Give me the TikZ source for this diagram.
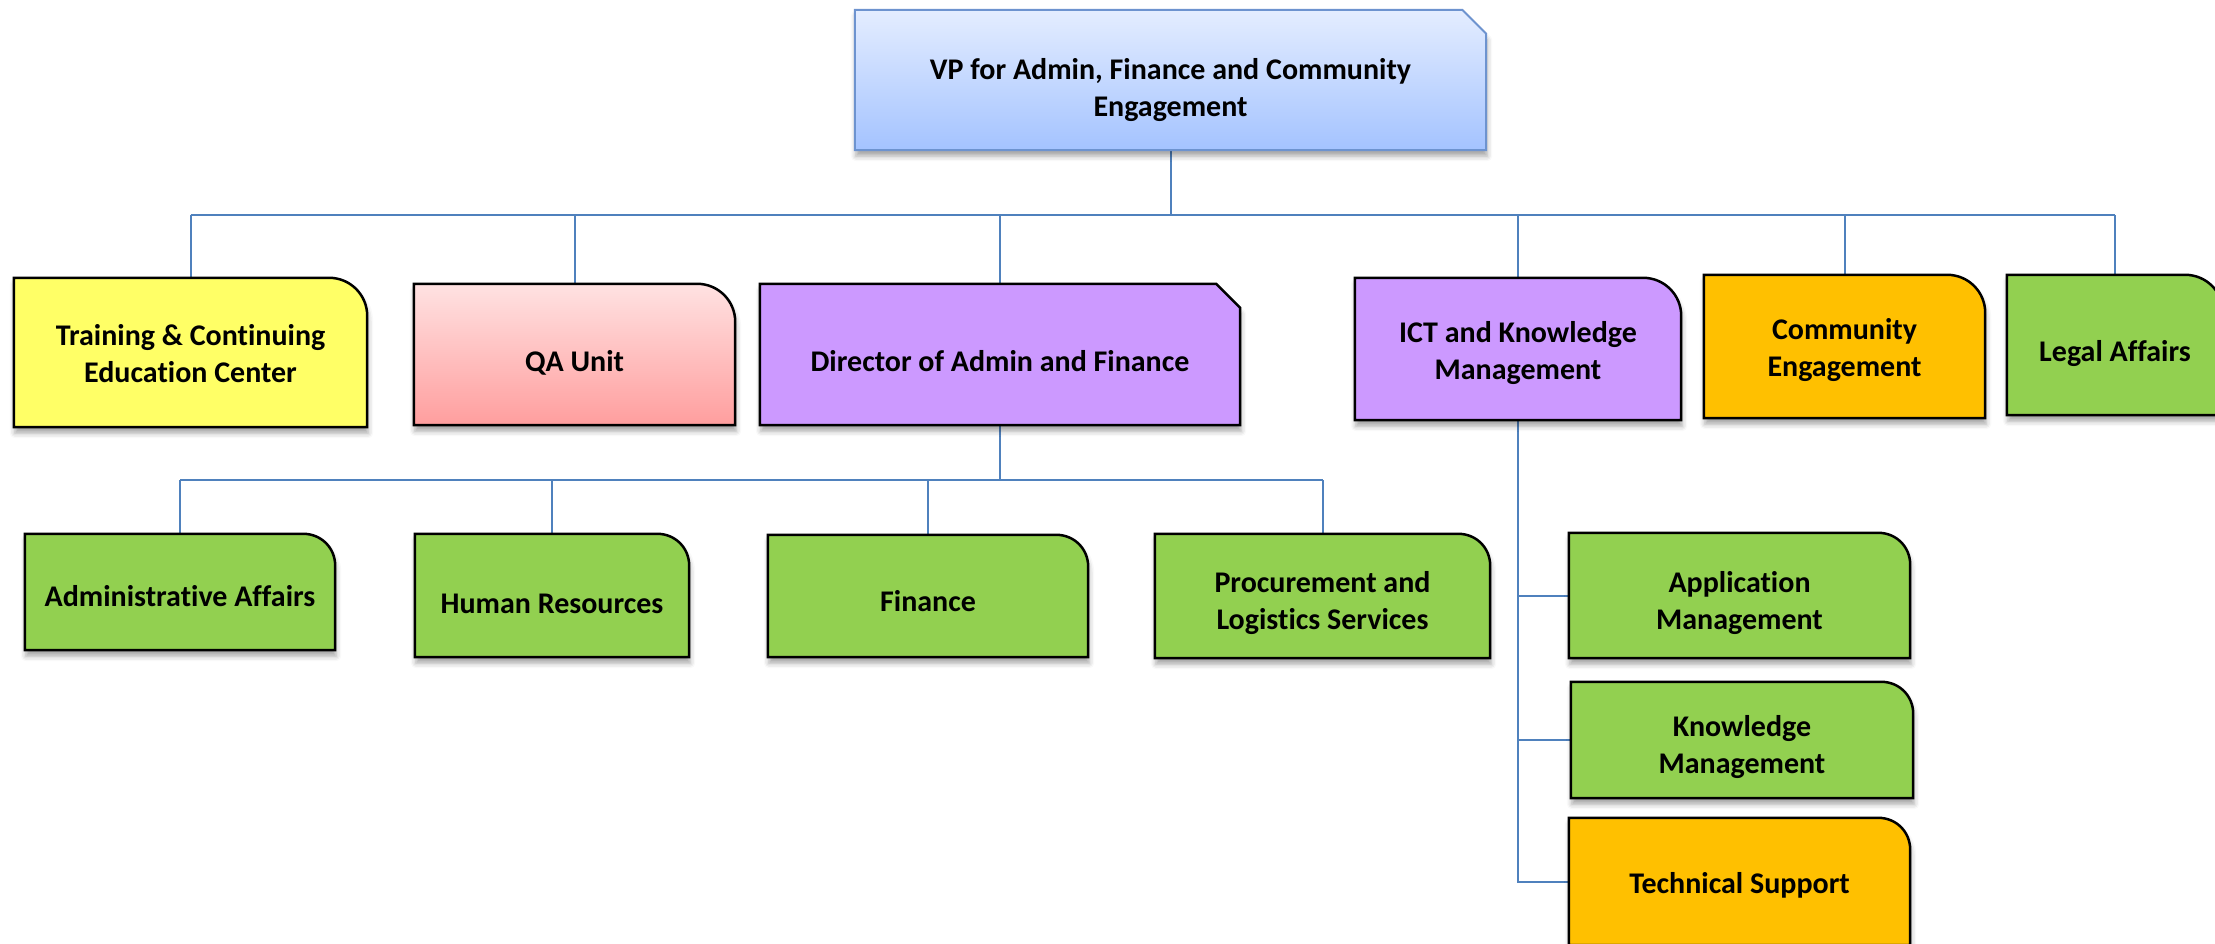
\documentclass[tikz,border=0pt]{standalone}
\usepackage{fontspec}
\setmainfont[Ligatures=NoCommon]{Carlito}
\usetikzlibrary{backgrounds,shadows.blur}
\definecolor{connblue}{HTML}{4F81BD}
\definecolor{vpborder}{HTML}{6D93CF}
\definecolor{vptop}{HTML}{E4EDFF}
\definecolor{vpbot}{HTML}{A4C3FF}
\definecolor{ylw}{HTML}{FFFF66}
\definecolor{qatop}{HTML}{FFE2E2}
\definecolor{qabot}{HTML}{FF9E9E}
\definecolor{prp}{HTML}{CC99FF}
\definecolor{org}{HTML}{FFC000}
\definecolor{grn}{HTML}{92D050}
% #1 node, #2 style, #3 radius, #4 0.448*radius
\newcommand\roundbox[4]{\path[#2] (#1.south west) -- (#1.north west) -- ([xshift=-#3pt]#1.north east) .. controls ([xshift=-#4pt]#1.north east) and ([yshift=-#4pt]#1.north east) .. ([yshift=-#3pt]#1.north east) -- (#1.south east) -- cycle;}
\newcommand\chambox[3]{\path[#2] (#1.south west) -- (#1.north west) -- ([xshift=-#3pt]#1.north east) -- ([yshift=-#3pt]#1.north east) -- (#1.south east) -- cycle;}
\begin{document}
\begin{tikzpicture}[x=1pt,y=-1pt,
  unit/.style={rectangle, inner sep=0pt},
  txt/.style={inner sep=0pt, align=center, font=\fontsize{30}{37}\selectfont\bfseries},
  conn/.style={draw=connblue, line width=2pt},
  boxline/.style={draw=black, line width=2.5pt, line join=miter,
    blur shadow={shadow xshift=1pt, shadow yshift=-6pt, shadow blur radius=5pt, shadow opacity=35}},
]
\useasboundingbox (0,0) rectangle (2215,943);

% box outlines (empty nodes)
\node[unit, minimum width=631pt, minimum height=140pt] (vp) at (1170.5,80) {};
\node[unit, minimum width=353pt, minimum height=149pt] (train) at (190.5,352.5) {};
\node[unit, minimum width=321pt, minimum height=141pt] (qa) at (574.5,354.5) {};
\node[unit, minimum width=480pt, minimum height=141pt] (dir) at (1000,354.5) {};
\node[unit, minimum width=326pt, minimum height=142pt] (ict) at (1518,349) {};
\node[unit, minimum width=281pt, minimum height=143pt] (comm) at (1844.5,346.5) {};
\node[unit, minimum width=216pt, minimum height=140pt] (legal) at (2115,345) {};
\node[unit, minimum width=310pt, minimum height=116pt] (admin) at (180,592) {};
\node[unit, minimum width=274pt, minimum height=123pt] (hr) at (552,595.5) {};
\node[unit, minimum width=320pt, minimum height=122pt] (fin) at (928,596) {};
\node[unit, minimum width=335pt, minimum height=124pt] (proc) at (1322.5,596) {};
\node[unit, minimum width=341pt, minimum height=125pt] (app) at (1739.5,595.5) {};
\node[unit, minimum width=342pt, minimum height=116pt] (know) at (1742,740) {};
\node[unit, minimum width=341pt, minimum height=127pt] (tech) at (1739.5,881.5) {};

% texts
\node[txt] (vp-t) at ([yshift=-10pt]vp.center) {VP for Admin, Finance and Community\\Engagement};
\node[txt] (train-t) at ([yshift=-1pt]train.center) {Training \& Continuing\\Education Center};
\node[txt] (qa-t) at ([yshift=-8pt]qa.center) {QA Unit};
\node[txt] (dir-t) at ([yshift=-7pt]dir.center) {Director of Admin and Finance};
\node[txt] (ict-t) at ([yshift=-4pt]ict.center) {ICT and Knowledge\\Management};
\node[txt] (comm-t) at ([yshift=-4pt]comm.center) {Community\\Engagement};
\node[txt] (legal-t) at ([yshift=-9pt]legal.center) {Legal Affairs};
\node[txt] (admin-t) at ([yshift=-4pt]admin.center) {Administrative Affairs};
\node[txt] (hr-t) at ([yshift=-8pt]hr.center) {Human Resources};
\node[txt] (fin-t) at ([yshift=-5pt]fin.center) {Finance};
\node[txt] (proc-t) at ([yshift=-7pt]proc.center) {Procurement and\\Logistics Services};
\node[txt] (app-t) at ([yshift=-8pt]app.center) {Application\\Management};
\node[txt] (know-t) at ([yshift=-7pt]know.center) {Knowledge\\Management};
\node[txt] (tech-t) at ([yshift=-4pt]tech.center) {Technical Support};

\coordinate (busA) at (1170,215);
\coordinate (busB) at (1000,480);

\begin{pgfonlayer}{background}
  % connectors
  \draw[conn] (vp.south) -- (vp.south |- busA);
  \draw[conn] (train.north |- busA) -- (legal.north |- busA);
  \foreach \n in {train,qa,dir,ict,comm,legal}
    \draw[conn] (\n.north) -- (\n.north |- busA);
  \draw[conn] (dir.south) -- (dir.south |- busB);
  \draw[conn] (admin.north |- busB) -- (proc.north |- busB);
  \foreach \n in {admin,hr,fin,proc}
    \draw[conn] (\n.north) -- (\n.north |- busB);
  \draw[conn] (ict.south) -- (ict.south |- tech.west) -- (tech.west);
  \draw[conn] (ict.south |- app.west) -- (app.west);
  \draw[conn] (ict.south |- know.west) -- (know.west);
  % boxes
  \chambox{vp}{boxline, draw=vpborder, line width=2pt, top color=vptop, bottom color=vpbot}{24}
  \roundbox{train}{boxline, fill=ylw}{38}{17}
  \roundbox{qa}{boxline, top color=qatop, bottom color=qabot}{38}{17}
  \chambox{dir}{boxline, fill=prp}{24}
  \roundbox{ict}{boxline, fill=prp}{38}{17}
  \roundbox{comm}{boxline, fill=org}{38}{17}
  \roundbox{legal}{boxline, fill=grn}{38}{17}
  \roundbox{admin}{boxline, fill=grn}{32}{14}
  \roundbox{hr}{boxline, fill=grn}{32}{14}
  \roundbox{fin}{boxline, fill=grn}{32}{14}
  \roundbox{proc}{boxline, fill=grn}{32}{14}
  \roundbox{app}{boxline, fill=grn}{32}{14}
  \roundbox{know}{boxline, fill=grn}{32}{14}
  \roundbox{tech}{boxline, fill=org}{32}{14}
\end{pgfonlayer}
\end{tikzpicture}
\end{document}
